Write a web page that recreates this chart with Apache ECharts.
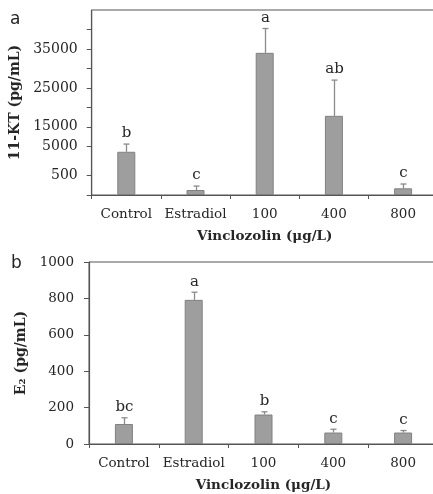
<!DOCTYPE html>
<html><head><meta charset="utf-8">
<script src="https://cdn.jsdelivr.net/npm/echarts@6/dist/echarts.min.js"></script>
<style>html,body{margin:0;padding:0;background:#fff}#c{width:433px;height:494px}</style>
</head><body><div id="c"></div>
<script>
// ---- data ----
const categories = ['Control', 'Estradiol', '100', '400', '800'];
// panel a: 11-KT (pg/mL), broken axis
const ktMeans = [4160, 128, 34000, 17830, 172];
const ktErrTop = [6150, 230, 40250, 27000, 282];
const ktLetters = ['b', 'c', 'a', 'ab', 'c'];
const ktTickValues = [0, 500, 5000, 15000, 20000, 25000, 30000, 35000, 40000];
const ktLabelValues = [500, 5000, 15000, 25000, 35000];
const ktAxisMax = 45000;
// panel b: E2 (pg/mL)
const e2Means = [110, 792, 162, 63, 63];
const e2ErrTop = [144, 834, 177, 81, 74];
const e2Letters = ['bc', 'a', 'b', 'c', 'c'];

// broken-axis scale for panel a (value -> axis units)
function ktScale(v) {
  if (v <= 500) return v / 500;
  if (v <= 5000) return 1 + (v - 500) / 4500 * 1.5;
  if (v <= 15000) return 2.5 + (v - 5000) / 10000;
  return 3.5 + (v - 15000) / 5000;
}

const SERIF = '"DejaVu Serif", serif';
const AXC = '#555';
const TXT = '#262626';
const BAR = '#9e9e9e';
const BARB = '#808080';

function errSeries(xi, yi, means, tops, letters, scale) {
  return {
    type: 'custom', xAxisIndex: xi, yAxisIndex: yi, z: 5,
    data: means.map((m, i) => [i, scale(m), scale(tops[i]), letters[i]]),
    renderItem: function (params, api) {
      const lo = api.coord([api.value(0), api.value(1)]);
      const hi = api.coord([api.value(0), api.value(2)]);
      const x = Math.round(lo[0]) + 0.5;
      const st = { stroke: '#8a8a8a', lineWidth: 1.3 };
      return { type: 'group', children: [
        { type: 'line', shape: { x1: x, y1: lo[1], x2: x, y2: hi[1] }, style: st },
        { type: 'line', shape: { x1: x - 3, y1: hi[1], x2: x + 3, y2: hi[1] }, style: st },
        { type: 'text', x: x, y: hi[1] - 3, style: { text: api.value(3), font: '15px ' + SERIF, fill: TXT, align: 'center', verticalAlign: 'bottom' } }
      ]};
    }
  };
}

const chart = echarts.init(document.getElementById('c'), null, { renderer: 'canvas' });
const identity = v => v;
chart.setOption({
  animation: false,
  backgroundColor: '#fff',
  grid: [
    { left: 91.7, top: 10, width: 346, height: 185, outerBoundsMode: 'none', containLabel: false, show: true, borderColor: AXC, borderWidth: 1, backgroundColor: 'transparent' },
    { left: 89, top: 262, width: 349, height: 182, outerBoundsMode: 'none', containLabel: false, show: true, borderColor: AXC, borderWidth: 1, backgroundColor: 'transparent' }
  ],
  graphic: [
    { type: 'text', left: 10, top: 11, style: { text: 'a', font: '17px "DejaVu Sans", sans-serif', fill: TXT } },
    { type: 'text', left: 11, top: 255, style: { text: 'b', font: '17px "DejaVu Sans", sans-serif', fill: TXT } }
  ],
  xAxis: [0, 1].map(i => ({
    type: 'category', gridIndex: i, data: categories,
    axisLine: { lineStyle: { color: AXC, width: 1.2 } },
    axisTick: { show: true, length: 4, interval: 0, lineStyle: { color: AXC } },
    axisLabel: { fontFamily: SERIF, fontSize: 13.5, color: TXT, margin: 12, interval: 0, hideOverlap: false },
    name: 'Vinclozolin (μg/L)', nameLocation: 'middle', nameGap: 34,
    nameTextStyle: { fontFamily: SERIF, fontSize: 13.5, fontWeight: 'bold', color: TXT }
  })),
  yAxis: [
    {
      type: 'value', gridIndex: 0, min: 0, max: ktScale(ktAxisMax), interval: 0.5,
      splitLine: { show: false },
      axisLine: { show: true, lineStyle: { color: AXC, width: 1.2 } },
      axisTick: { show: true, length: 5, lineStyle: { color: AXC }, customValues: ktTickValues.map(ktScale) },
      axisLabel: {
        fontFamily: SERIF, fontSize: 14, color: TXT, margin: 14,
        customValues: ktLabelValues.map(ktScale),
        formatter: function (v) {
          for (const t of ktLabelValues) if (Math.abs(ktScale(t) - v) < 1e-6) return String(t);
          return '';
        }
      },
      name: '11-KT (pg/mL)', nameLocation: 'middle', nameRotate: 90, nameGap: 63,
      nameTextStyle: { fontFamily: SERIF, fontSize: 14, fontWeight: 'bold', color: TXT }
    },
    {
      type: 'value', gridIndex: 1, min: 0, max: 1000, interval: 200,
      splitLine: { show: false },
      axisLine: { show: true, lineStyle: { color: AXC, width: 1.2 } },
      axisTick: { show: true, length: 5, lineStyle: { color: AXC } },
      axisLabel: { fontFamily: SERIF, fontSize: 13.5, color: TXT, margin: 15, formatter: v => String(v) },
      name: 'E₂ (pg/mL)', nameLocation: 'middle', nameRotate: 90, nameGap: 52,
      nameTextStyle: { fontFamily: SERIF, fontSize: 14, fontWeight: 'bold', color: TXT }
    }
  ],
  series: [
    { type: 'bar', xAxisIndex: 0, yAxisIndex: 0, barWidth: 18, data: ktMeans.map(ktScale),
      itemStyle: { color: BAR, borderColor: BARB, borderWidth: 1 } },
    errSeries(0, 0, ktMeans, ktErrTop, ktLetters, ktScale),
    { type: 'bar', xAxisIndex: 1, yAxisIndex: 1, barWidth: 18, data: e2Means,
      itemStyle: { color: BAR, borderColor: BARB, borderWidth: 1 } },
    errSeries(1, 1, e2Means, e2ErrTop, e2Letters, identity)
  ]
});
</script></body></html>
